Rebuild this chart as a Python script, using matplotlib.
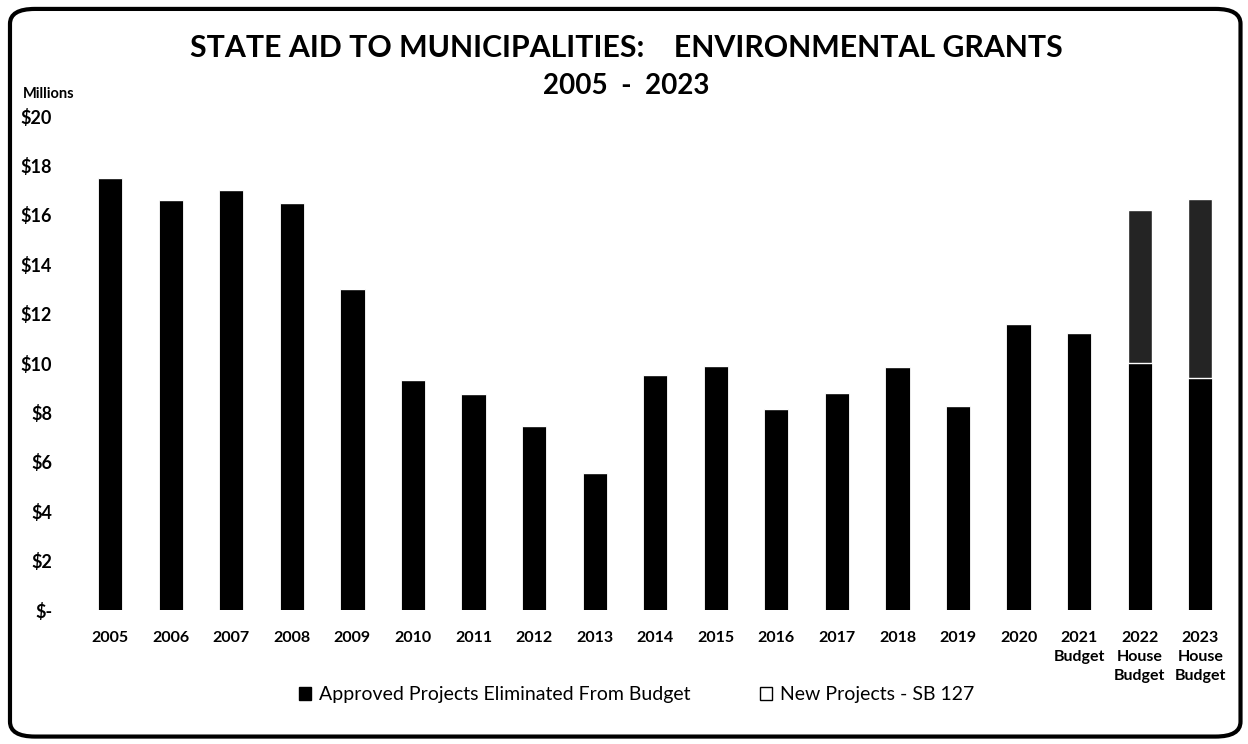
import matplotlib.pyplot as plt
import numpy as np
from matplotlib.patches import FancyBboxPatch, Patch

plt.rcParams['font.family'] = ['Lato', 'DejaVu Sans']

# Grant totals in millions of dollars
years = ['2005', '2006', '2007', '2008', '2009', '2010', '2011', '2012', '2013', '2014',
         '2015', '2016', '2017', '2018', '2019', '2020', '2021\nBudget', '2022\nHouse\nBudget',
         '2023\nHouse\nBudget']
approved = [17.5, 16.6, 17.0, 16.5, 13.0, 9.3, 8.75, 7.47, 5.56, 9.5,
            9.88, 8.15, 8.8, 9.84, 8.27, 11.6, 11.2, 10.0, 9.4]
new_projects = [0, 0, 0, 0, 0, 0, 0, 0, 0, 0,
                0, 0, 0, 0, 0, 0, 0, 6.2, 7.25]
y_ticks = [0, 2, 4, 6, 8, 10, 12, 14, 16, 18, 20]
y_labels = ['$-', '$2', '$4', '$6', '$8', '$10', '$12', '$14', '$16', '$18', '$20']

fig = plt.figure(figsize=(12.48, 7.44), dpi=100)
ax = fig.add_axes([0.064, 0.18, 0.922, 0.664])

x = np.arange(len(years))
ax.bar(x, approved, width=0.4, color='black', edgecolor='white', linewidth=0.6)
ax.bar(x, new_projects, width=0.4, bottom=approved, color='#242424',
       edgecolor='white', linewidth=1.0)

ax.set_xlim(-0.5, len(years) - 0.5)
ax.set_ylim(0, 20)
ax.set_yticks(y_ticks)
ax.set_yticklabels(y_labels, fontsize=13, fontweight='bold')
ax.set_xticks(x)
ax.set_xticklabels(years, fontsize=11.5, fontweight='bold', linespacing=1.45)
ax.tick_params(axis='both', length=0)
ax.tick_params(axis='x', pad=15)
ax.tick_params(axis='y', pad=20)
for s in ax.spines.values():
    s.set_visible(False)

fig.text(0.018, 0.868, 'Millions', fontsize=10.5, fontweight='bold')
fig.text(0.502, 0.936, 'STATE AID TO MUNICIPALITIES:    ENVIRONMENTAL GRANTS',
         ha='center', va='center', fontsize=21.8, fontweight='bold')
fig.text(0.502, 0.884, '2005  -  2023', ha='center', va='center',
         fontsize=20, fontweight='bold')

handles = [Patch(facecolor='black', edgecolor='black'),
           Patch(facecolor='white', edgecolor='black')]
fig.legend(handles, ['Approved Projects Eliminated From Budget', 'New Projects - SB 127'],
           loc='center', bbox_to_anchor=(0.51, 0.066), ncol=2, frameon=False,
           fontsize=14, handlelength=0.6, handleheight=0.6, handletextpad=0.4,
           columnspacing=3.6)

# rounded frame around the whole chart
fig.patches.append(FancyBboxPatch((0.008, 0.01), 0.986, 0.978,
                                  boxstyle='round,pad=0,rounding_size=0.02',
                                  transform=fig.transFigure, fill=False,
                                  edgecolor='black', linewidth=3))

fig.savefig('out.png', dpi=100)
